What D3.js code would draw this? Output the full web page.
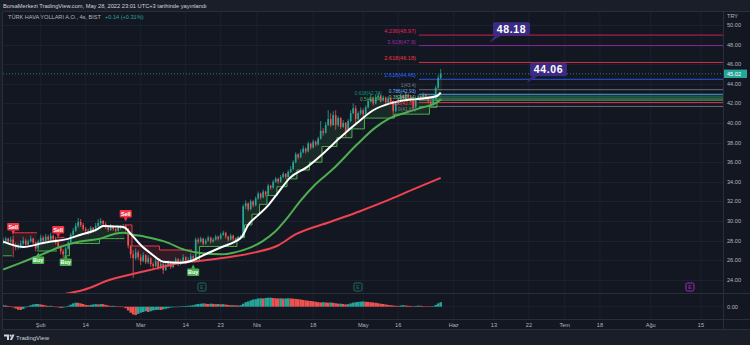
<!DOCTYPE html>
<html><head><meta charset="utf-8">
<script src="https://cdn.jsdelivr.net/npm/d3@7/dist/d3.min.js"></script>
<style>html,body{margin:0;padding:0;background:#131722;overflow:hidden}svg{display:block}</style>
</head><body>
<svg id="chart" width="750" height="345"></svg>
<script>
// ---------------- DATA ----------------
const headerText = "BorsaMerkezi TradingView.com, May 28, 2022 23:01 UTC+3 tarihinde yayınlandı";
const symbolText = "TÜRK HAVA YOLLARI A.O., 4s, BIST";
const changeText = "+0.14 (+0.31%)";
const currency = "TRY";
const lastPrice = 45.02;

const opens = [27.8,28.0,28.2,27.9,28.1,27.5,27.3,27.4,27.7,28.0,
27.6,27.9,28.2,27.8,27.2,27.9,28.3,28.0,28.4,28.1,
28.5,28.2,27.8,27.4,26.9,26.6,27.2,27.8,28.6,29.0,
29.5,29.9,29.6,29.2,29.0,28.8,29.3,29.0,29.5,29.8,
30.0,29.7,29.4,29.1,29.5,29.2,29.0,29.4,29.3,29.5,
29.2,27.5,26.6,26.2,26.8,26.3,25.9,26.5,25.8,26.2,
25.6,25.4,25.9,25.2,25.6,25.0,25.5,25.8,25.3,25.7,
26.1,25.6,25.9,26.3,25.8,26.0,26.4,26.2,28.1,27.9,
28.2,27.7,28.0,28.3,27.9,28.1,28.4,28.2,28.6,28.8,
28.4,28.1,28.5,28.2,28.0,28.3,28.4,31.5,31.8,31.2,
32.0,31.6,32.3,32.8,32.4,33.0,32.7,33.6,33.4,34.0,
34.3,34.0,34.5,34.8,34.5,35.0,35.3,36.0,36.8,36.5,
37.0,37.4,37.1,37.9,37.5,38.1,37.8,38.4,39.2,39.0,
39.8,40.4,39.8,40.8,39.8,40.5,39.6,40.0,39.2,40.2,
41.0,41.5,40.4,41.0,41.3,40.9,41.6,42.2,42.5,42.0,
42.6,42.8,42.3,42.6,42.1,42.5,42.2,41.2,42.0,42.4,
42.8,42.5,42.9,42.6,42.3,41.6,42.4,42.7,42.5,42.9,
42.6,42.2,41.9,42.4,43.6,44.6];
const highs = [28.3,28.4,28.3,28.4,28.5,27.8,27.7,28.0,28.4,28.2,
28.1,28.5,28.3,27.9,28.1,28.6,28.5,28.7,28.6,28.8,
28.6,28.4,28.0,27.5,27.1,27.4,28.0,28.8,29.3,29.8,
30.3,30.2,29.8,29.4,29.2,29.5,29.4,29.8,30.2,30.3,
30.1,29.9,29.5,29.7,29.6,29.3,29.6,29.6,29.7,29.6,
29.3,27.5,27.0,27.2,27.0,26.6,26.8,26.6,26.5,26.3,
25.8,26.2,26.0,25.9,25.7,25.7,26.0,25.9,25.9,26.3,
26.2,26.1,26.6,26.4,26.3,26.7,26.6,28.3,28.3,28.4,
28.3,28.2,28.5,28.4,28.3,28.6,28.5,28.8,29.0,28.9,
28.5,28.7,28.6,28.3,28.5,28.6,31.7,32.1,31.9,32.2,
32.1,32.5,33.0,32.9,33.2,33.1,33.8,33.7,34.2,34.5,
34.4,34.7,35.0,34.9,35.2,35.6,36.2,37.0,36.9,37.3,
37.7,37.5,38.1,38.0,38.3,38.2,38.6,40.2,39.5,40.1,
41.3,41.0,41.2,41.3,40.7,40.6,40.3,40.1,40.4,41.3,
42.0,41.8,41.2,41.6,41.5,41.8,42.5,42.9,42.7,42.9,
43.1,42.9,42.8,42.7,42.7,42.6,42.3,42.2,42.6,43.0,
42.9,43.1,43.0,42.7,42.4,42.6,42.9,42.8,43.1,43.0,
42.7,42.3,42.6,43.8,44.9,45.5];
const lows = [27.6,27.8,27.7,27.8,26.3,27.0,27.1,27.2,27.5,27.4,
27.4,27.8,27.6,26.9,27.0,27.8,27.8,27.9,27.9,28.0,
28.0,27.6,27.2,26.6,26.2,26.5,27.1,27.7,28.4,28.9,
29.3,29.4,29.0,28.7,28.6,28.7,28.8,28.9,29.4,29.6,
29.5,29.2,28.9,29.0,29.0,28.8,28.9,29.1,29.2,28.9,
27.2,26.2,24.2,26.0,26.0,25.5,25.8,25.6,25.6,25.3,
25.1,25.3,25.0,25.1,24.6,24.9,25.3,25.1,25.2,25.6,
25.4,25.5,25.8,25.6,25.7,25.9,25.9,26.1,27.7,27.8,
27.5,27.6,27.9,27.7,27.8,28.0,28.0,28.1,28.5,28.2,
27.9,28.0,28.0,27.8,27.9,28.1,28.3,31.2,31.0,31.1,
31.4,31.5,32.2,32.2,32.3,32.5,32.6,33.2,33.3,33.9,
33.8,33.9,34.4,34.3,34.4,34.9,35.2,35.9,36.3,36.4,
36.9,36.9,37.0,37.3,37.4,37.6,37.7,38.3,38.7,38.9,
39.7,39.6,39.7,39.3,39.6,39.4,39.5,38.6,39.1,40.1,
40.9,40.0,40.3,40.8,40.6,40.8,41.5,42.1,41.8,41.9,
42.4,42.1,42.2,41.9,42.0,42.0,40.6,41.1,41.9,42.3,
42.3,42.4,42.4,42.1,41.3,41.5,42.3,42.3,42.4,42.4,
42.0,41.7,41.8,42.3,43.5,44.5];
const closes = [28.0,28.2,27.9,28.1,27.5,27.3,27.4,27.7,28.0,27.6,
27.9,28.2,27.8,27.2,27.9,28.3,28.0,28.4,28.1,28.5,
28.2,27.8,27.4,26.9,26.6,27.2,27.8,28.6,29.0,29.5,
29.9,29.6,29.2,29.0,28.8,29.3,29.0,29.5,29.8,30.0,
29.7,29.4,29.1,29.5,29.2,29.0,29.4,29.3,29.5,29.2,
27.5,26.6,26.2,26.8,26.3,25.9,26.5,25.8,26.2,25.6,
25.4,25.9,25.2,25.6,25.0,25.5,25.8,25.3,25.7,26.1,
25.6,25.9,26.3,25.8,26.0,26.4,26.2,28.1,27.9,28.2,
27.7,28.0,28.3,27.9,28.1,28.4,28.2,28.6,28.8,28.4,
28.1,28.5,28.2,28.0,28.3,28.4,31.5,31.8,31.2,32.0,
31.6,32.3,32.8,32.4,33.0,32.7,33.6,33.4,34.0,34.3,
34.0,34.5,34.8,34.5,35.0,35.3,36.0,36.8,36.5,37.0,
37.4,37.1,37.9,37.5,38.1,37.8,38.4,39.2,39.0,39.8,
40.4,39.8,40.8,39.8,40.5,39.6,40.0,39.2,40.2,41.0,
41.5,40.4,41.0,41.3,40.9,41.6,42.2,42.5,42.0,42.6,
42.8,42.3,42.6,42.1,42.5,42.2,41.2,42.0,42.4,42.8,
42.5,42.9,42.6,42.3,41.6,42.4,42.7,42.5,42.9,42.6,
42.2,41.9,42.4,43.6,44.6,45.02];

// MACD histogram, one value per bar
const macdHist = [0.10,0.08,0.05,0.02,
-0.05,-0.12,-0.20,-0.22,-0.15,
-0.05,0.04,0.10,0.15,0.18,0.18,0.15,0.12,
0.08,0.05,0.06,0.03,0.00,-0.04,-0.08,-0.06,-0.02,
0.06,0.14,0.22,0.27,0.26,0.22,0.18,
0.12,0.10,0.12,0.15,0.17,0.15,
0.18,0.17,0.12,0.08,0.05,0.06,
0.04,0.02,0.01,-0.02,
-0.10,-0.25,-0.40,-0.52,-0.56,-0.48,-0.40,
-0.36,-0.30,-0.35,-0.30,-0.25,-0.22,-0.20,
-0.22,-0.18,-0.14,-0.10,-0.06,-0.04,-0.02,
0.00,0.02,0.04,0.05,0.06,0.08,0.10,0.15,0.18,0.20,
0.22,0.20,0.18,0.20,0.19,0.17,0.18,0.16,0.17,0.14,0.12,0.10,0.10,
0.09,0.08,0.10,0.20,0.30,0.35,
0.42,0.48,0.50,0.55,0.56,0.55,
0.58,0.60,0.60,0.58,0.56,0.55,0.56,0.54,0.55,0.56,0.55,
0.54,0.52,0.50,0.48,0.45,0.42,0.40,0.38,0.36,0.33,0.30,
0.28,0.30,0.28,0.27,0.28,0.26,0.23,0.20,
0.20,0.18,0.15,0.17,0.22,0.27,
0.30,0.32,0.34,0.35,0.33,0.32,0.30,0.28,
0.26,0.23,0.20,0.18,0.15,0.12,0.10,0.08,
0.06,0.05,0.08,0.10,0.08,0.06,0.05,0.03,0.05,0.07,0.06,0.04,0.03,0.02,
0.01,0.04,0.12,0.22,0.30];

// moving averages: [bar index, price]
const fastEma = [[0,27.9],[8,27.35],[16,27.75],[19,27.9],[25.5,28.15],[31,28.6],[37.5,29.15],[40,29.5],[44,29.45],[48,29.4],[52,28.4],[55,27.55],[59,26.7],[64,25.85],[71,25.75],[76,26.0],[80,26.5],[87.5,27.35],[92.7,27.9],[95.5,28.4],[98,29.6],[102,30.6],[106,31.6],[110,32.9],[114.7,34.4],[121.5,35.5],[128,36.9],[134.7,38.5],[141.5,40.0],[148,41.3],[154.7,42.0],[161.5,42.35],[168,42.5],[173.5,42.75],[175,43.1]];
const slowEma = [[0,25.05],[6.7,25.7],[14.7,26.5],[22.7,27.35],[30.7,27.9],[38.7,28.2],[44.7,28.7],[48,28.8],[52,28.6],[56.7,28.4],[64.7,27.9],[72.7,27.05],[79.5,26.7],[87.5,26.6],[92.7,26.8],[98,27.2],[103.5,27.9],[108.7,28.9],[113.9,30.4],[118.7,32.0],[124.7,33.7],[131.9,35.3],[141.5,37.8],[148.7,39.5],[154.7,40.5],[161.5,41.1],[167.9,41.6],[173.5,42.1],[175,42.4]];
const ma200 = [[20,22.2],[25.5,22.6],[32,22.96],[42.7,24.0],[58.7,25.0],[70,25.7],[80.7,26.0],[90,26.3],[100.7,26.8],[109.9,27.5],[116.7,28.6],[130.7,29.9],[142.7,31.0],[154.7,32.2],[164.7,33.3],[175,34.4]];

// trailing stop: [first bar, last bar, level, direction (1 buy / -1 sell)]
const trailSegs = [[0,3,26.45,1],[4,13,28.8,-1],[14,21,26.94,1],[22,24,28.33,-1],[25,26,26.45,1],[27,38,27.7,1],[39,48,28.2,1],[49,51,29.6,-1],[52,62,27.45,-1],[63,75,27.04,-1],[76,78,25.85,1],[79,93,27.4,1],[94,96,28.3,1],[97,99,29.6,1],[100,102,30.7,1],[103,105,31.7,1],[106,109,32.6,1],[110,113,33.5,1],[114,117,34.3,1],[118,122,35.2,1],[123,127,36.0,1],[128,133,37.6,1],[134,139,38.5,1],[140,144,39.4,1],[145,156,40.5,1],[157,170,40.9,1],[171,173,41.6,1],[174,175,42.3,1]];
const buyIdx = [14,25,76];
const buyAt = [26.79,26.58,25.56];
const sellIdx = [4,22,49];
const sellAt = [28.62,28.32,29.95];

// earnings markers (bar index), the last one is in the future
const earnIdx = [79.5,141.9];
const earnFutureIdx = [274.7];

// time axis
const timeTickIdx = [15,33,55,73,87,101.5,124,144,158,180.2,196.3,210.3,224.6,238.7,259,279.1];
const timeTickLbl = ["Şub","14","Mar","14","23","Nis","18","May","16","Haz","13","22","Tem","18","Ağu","15"];
const priceTicks = [24,26,28,30,32,34,36,38,40,42,44,46,48,50];

// fibonacci extension
const fibStartIdx = 166.3;
const fibRatio = [0,0.236,0.382,0.5,0.618,0.786,1,1.618,2.618,3.618,4.236];
const fibPrice = [41.69,42.09,42.34,42.54,42.74,42.93,43.4,44.46,46.18,47.9,48.97];

// price targets
const targetVal = [48.18,44.06];
const targetIdx = [194.3,209.1];

// ---------------- STYLE / LAYOUT ----------------
const COL = {frame:'#1a1e29', bg:'#131722', grid:'#1c2130', border:'#2a2e39', text:'#b2b5be',
  up:'#26a69a', down:'#ef5350', fast:'#ffffff', slow:'#4caf50', ma:'#f0424f',
  buy:'#4caf50', sell:'#f23645', target:'#3b2b82'};
const fibColors = ['#787b86','#f23645','#81c784','#4caf50','#089981','#64b5f6','#787b86','#2962ff','#f23645','#9c27b0','#e91e63'];
// label placement for the crowded lower fib levels: [column offset px, baseline y px]
const fibLowLabelPos = {0:[0,110.5],1:[0,104.5],2:[0,98.5],3:[-34,101],4:[-34,95],5:[0,92.5],6:[0,86.5]};
const P = {left:3, right:723, top:12, mainBottom:293, macdBottom:319, axisBottom:330};
const FONT = '"Liberation Sans", Arial, sans-serif';

const svg = d3.select('#chart').attr('font-family', FONT);
const N = closes.length;

const x = d3.scaleLinear().domain([0,288]).range([3.2,723.2]);
const y = d3.scaleLinear().domain([24,50]).range([279.8,25]);
const ym = d3.scaleLinear().domain([-1,1]).range([321.7,291.7]);

// backgrounds
svg.append('rect').attr('width',750).attr('height',345).attr('fill',COL.frame);
svg.append('rect').attr('x',P.left).attr('y',P.top).attr('width',750-P.left).attr('height',P.axisBottom-P.top).attr('fill',COL.bg);

const defs = svg.append('defs');
defs.append('clipPath').attr('id','mainClip').append('rect')
  .attr('x',P.left).attr('y',P.top).attr('width',P.right-P.left).attr('height',P.mainBottom-P.top);
defs.append('clipPath').attr('id','macdClip').append('rect')
  .attr('x',P.left).attr('y',P.mainBottom).attr('width',P.right-P.left).attr('height',P.macdBottom-P.mainBottom);

// grid
const gv = svg.append('g');
gv.selectAll('line').data(timeTickIdx).join('line')
  .attr('x1',d=>x(d)).attr('x2',d=>x(d)).attr('y1',P.top).attr('y2',P.macdBottom)
  .attr('stroke',COL.grid).attr('stroke-width',1);
const gh = svg.append('g');
gh.selectAll('line').data(priceTicks).join('line')
  .attr('x1',P.left).attr('x2',P.right).attr('y1',d=>Math.round(y(d))+0.5).attr('y2',d=>Math.round(y(d))+0.5)
  .attr('stroke',COL.grid).attr('stroke-width',1);
svg.append('line').attr('x1',P.left).attr('x2',P.right).attr('y1',ym(0)).attr('y2',ym(0)).attr('stroke',COL.grid);

// pane borders
const borders = svg.append('g').attr('stroke',COL.border).attr('stroke-width',1);
borders.append('line').attr('x1',P.left).attr('x2',750).attr('y1',P.top-0.5).attr('y2',P.top-0.5);
borders.append('line').attr('x1',P.left).attr('x2',750).attr('y1',P.mainBottom+0.5).attr('y2',P.mainBottom+0.5);
borders.append('line').attr('x1',P.left).attr('x2',750).attr('y1',P.macdBottom+0.5).attr('y2',P.macdBottom+0.5);
borders.append('line').attr('x1',P.left).attr('x2',750).attr('y1',P.axisBottom-0.5).attr('y2',P.axisBottom-0.5);
borders.append('line').attr('x1',P.right+0.5).attr('x2',P.right+0.5).attr('y1',P.top).attr('y2',P.axisBottom);
borders.append('line').attr('x1',P.left-0.5).attr('x2',P.left-0.5).attr('y1',P.top).attr('y2',P.axisBottom);

const main = svg.append('g').attr('clip-path','url(#mainClip)');

// fib lines
const fibStartX = x(fibStartIdx);
main.append('g').selectAll('line').data(fibPrice).join('line')
  .attr('x1',fibStartX).attr('x2',P.right).attr('y1',d=>y(d)).attr('y2',d=>y(d))
  .attr('stroke',(d,i)=>fibColors[i]).attr('stroke-opacity',0.85).attr('stroke-width',1);

// trailing stop fill + line
const trailLvl = new Array(N), trailDir = new Array(N);
trailSegs.forEach(([s,e,l,d])=>{ for(let i=s;i<=e;i++){ trailLvl[i]=l; trailDir[i]=d; } });
const runs = [];
let cur = null;
for (let i=0;i<N;i++){
  if (!cur || cur.dir!==trailDir[i]) { cur={dir:trailDir[i], idx:[]}; runs.push(cur); }
  cur.idx.push(i);
}
const tg = main.append('g');
runs.forEach(r=>{
  const pts = [];
  r.idx.forEach(i=>{ pts.push([x(i)-1.25,trailLvl[i],closes[i]]); pts.push([x(i)+1.25,trailLvl[i],closes[i]]); });
  tg.append('path').attr('d', d3.area().x(d=>d[0]).y0(d=>y(d[1])).y1(d=>y(d[2]))(pts))
    .attr('fill', r.dir>0 ? 'rgba(76,175,80,0.13)' : 'rgba(242,54,69,0.13)');
  tg.append('path').attr('d', d3.line().x(d=>d[0]).y(d=>y(d[1]))(pts))
    .attr('fill','none').attr('stroke', r.dir>0 ? '#4caf50' : '#f23645').attr('stroke-width',1);
});

// candles
const cg = main.append('g');
const idx = d3.range(N);
cg.selectAll('line').data(idx).join('line')
  .attr('x1',i=>x(i)).attr('x2',i=>x(i)).attr('y1',i=>y(highs[i])).attr('y2',i=>y(lows[i]))
  .attr('stroke',i=>closes[i]>=opens[i]?COL.up:COL.down).attr('stroke-width',0.8);
cg.selectAll('rect').data(idx).join('rect')
  .attr('x',i=>x(i)-0.8).attr('width',1.6)
  .attr('y',i=>y(Math.max(opens[i],closes[i])))
  .attr('height',i=>Math.max(0.7, Math.abs(y(opens[i])-y(closes[i]))))
  .attr('fill',i=>closes[i]>=opens[i]?COL.up:COL.down);

// moving averages
const lineGen = d3.line().x(d=>x(d[0])).y(d=>y(d[1])).curve(d3.curveMonotoneX);
main.append('path').attr('d',lineGen(ma200)).attr('fill','none').attr('stroke',COL.ma).attr('stroke-width',2);
main.append('path').attr('d',lineGen(slowEma)).attr('fill','none').attr('stroke',COL.slow).attr('stroke-width',2);
main.append('path').attr('d',lineGen(fastEma)).attr('fill','none').attr('stroke',COL.fast).attr('stroke-width',2);

// last price line
main.append('line').attr('x1',P.left).attr('x2',P.right).attr('y1',y(lastPrice)).attr('y2',y(lastPrice))
  .attr('stroke',COL.up).attr('stroke-opacity',0.7).attr('stroke-dasharray','1,2');

// fib labels
const fmtR = d=>String(d);
main.append('g').selectAll('text').data(fibPrice).join('text')
  .attr('x',(d,i)=> fibStartX-3 + (fibLowLabelPos[i] ? fibLowLabelPos[i][0] : 0))
  .attr('y',(d,i)=> fibLowLabelPos[i] ? fibLowLabelPos[i][1] : y(d)-2)
  .attr('text-anchor','end')
  .attr('font-size',(d,i)=> fibLowLabelPos[i] ? 4.8 : 5.6)
  .attr('fill',(d,i)=>fibColors[i])
  .text((d,i)=>`${fmtR(fibRatio[i])}(${d})`);

// buy / sell labels
const sg = main.append('g');
sellIdx.forEach((bi,k)=>{
  const cx = x(bi), ay = y(sellAt[k]);
  sg.append('path').attr('d',`M${cx-2},${ay-4} L${cx},${ay} L${cx+2},${ay-4} Z`).attr('fill',COL.sell);
  sg.append('rect').attr('x',cx-6).attr('y',ay-11.5).attr('width',12).attr('height',7.5).attr('rx',1).attr('fill',COL.sell);
  sg.append('text').attr('x',cx).attr('y',ay-5.6).attr('text-anchor','middle').attr('font-size',5.4)
    .attr('font-weight','bold').attr('fill','#fff').text('Sell');
});
buyIdx.forEach((bi,k)=>{
  const cx = x(bi), ay = y(buyAt[k]);
  sg.append('path').attr('d',`M${cx-2},${ay+4} L${cx},${ay} L${cx+2},${ay+4} Z`).attr('fill',COL.buy);
  sg.append('rect').attr('x',cx-6).attr('y',ay+4).attr('width',12).attr('height',7.5).attr('rx',1).attr('fill',COL.buy);
  sg.append('text').attr('x',cx).attr('y',ay+9.9).attr('text-anchor','middle').attr('font-size',5.4)
    .attr('font-weight','bold').attr('fill','#fff').text('Buy');
});

// earnings markers
function earn(g, xi, stroke, fill){
  const cx = x(xi), cy = 287;
  g.append('rect').attr('x',cx-4).attr('y',cy-4).attr('width',8).attr('height',8).attr('rx',1.5)
    .attr('fill',fill).attr('stroke',stroke).attr('stroke-width',1);
  g.append('text').attr('x',cx).attr('y',cy+2).attr('text-anchor','middle').attr('font-size',5.5)
    .attr('fill',stroke).text('E');
}
const eg = svg.append('g');
earnIdx.forEach(d=>earn(eg,d,'#1f6f63','#131722'));
earnFutureIdx.forEach(d=>earn(eg,d,'#a32bbf','#131722'));

// targets (callouts)
const tgG = svg.append('g');
targetVal.forEach((v,k)=>{
  const tx = x(targetIdx[k]), ty = y(v);
  const bx = tx+4, bb = ty-7, bw = 37, bh = 13.5;
  tgG.append('path').attr('d',`M${bx+2},${bb} L${tx},${ty} L${bx+8},${bb} Z`).attr('fill',COL.target);
  tgG.append('rect').attr('x',bx).attr('y',bb-bh).attr('width',bw).attr('height',bh).attr('rx',2).attr('fill',COL.target);
  tgG.append('text').attr('x',bx+bw/2).attr('y',bb-3.3).attr('text-anchor','middle')
    .attr('font-size',10.5).attr('font-weight','bold').attr('fill','#ffffff').attr('letter-spacing',0.6).text(v.toFixed(2));
});

// MACD histogram
const mg = svg.append('g').attr('clip-path','url(#macdClip)');
mg.selectAll('rect').data(idx).join('rect')
  .attr('x',i=>x(i)-1.25).attr('width',2.5)
  .attr('y',i=>Math.min(ym(0),ym(macdHist[i])))
  .attr('height',i=>Math.max(0.5,Math.abs(ym(macdHist[i])-ym(0))))
  .attr('fill',i=> (i===0 || macdHist[i]>=macdHist[i-1]) ? COL.up : COL.down);

// price axis
const pa = svg.append('g').attr('font-size',5.6).attr('fill',COL.text);
pa.selectAll('text').data(priceTicks).join('text')
  .attr('x',727).attr('y',d=>y(d)+2).text(d=>d.toFixed(2));
pa.append('text').attr('x',727).attr('y',17.5).text(currency);
pa.append('text').attr('x',727).attr('y',ym(0)+2).text((0).toFixed(2));
svg.append('rect').attr('x',P.right+1).attr('y',y(lastPrice)-4.2).attr('width',23).attr('height',8.4).attr('fill',COL.up);
svg.append('text').attr('x',727).attr('y',y(lastPrice)+2).attr('font-size',5.6).attr('fill','#ffffff').text(lastPrice.toFixed(2));

// time axis
svg.append('g').attr('font-size',5.6).attr('fill',COL.text).attr('text-anchor','middle')
  .selectAll('text').data(timeTickIdx).join('text')
  .attr('x',d=>x(d)).attr('y',326.5).text((d,i)=>timeTickLbl[i]);

// header + legend
svg.append('text').attr('x',3).attr('y',8).attr('font-size',5.7).attr('fill','#d1d4dc').text(headerText);
const lg = svg.append('text').attr('x',8).attr('y',19.3).attr('font-size',5.6);
lg.append('tspan').attr('fill',COL.text).text(symbolText);
lg.append('tspan').attr('fill',COL.up).attr('dx',4).text(changeText);

// footer logo
const fg = svg.append('g').attr('fill','#d1d4dc');
fg.append('path').attr('d','M4,334.5 h5 v5.5 h-2 v-3.6 h-3 Z');
fg.append('circle').attr('cx',10.6).attr('cy',335.6).attr('r',1.1);
fg.append('path').attr('d','M12.4,334.5 h2.2 l-2.6,5.5 h-2.2 Z');
fg.append('text').attr('x',16).attr('y',339.5).attr('font-size',6).text('TradingView');
</script>
</body></html>
